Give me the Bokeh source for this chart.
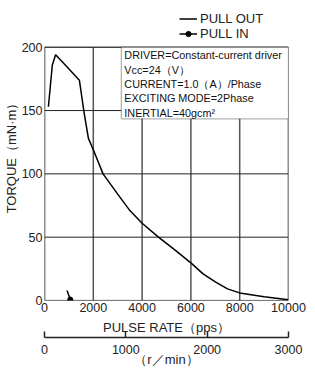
from bokeh.plotting import figure
from bokeh.models import (Range1d, LinearAxis, FixedTicker, BoxAnnotation, Label,
                          Legend, LegendItem)
from bokeh.embed import file_html
from bokeh.resources import INLINE

# ---- data ----
pull_out_pps = [160, 321, 455, 900, 1430, 1610, 1660, 1800, 2000, 2400, 3000, 3500,
                4000, 4670, 5340, 6000, 6500, 7000, 7500, 8000, 9000, 10000]
pull_out_torque = [153, 186, 194, 185, 174, 150, 144, 128, 119, 100, 84, 71,
                   61, 50, 40, 29.7, 21, 14.7, 9.2, 6, 3, 0.5]
pull_in_pps = [924, 1056]
pull_in_torque = [7.9, 0.8]
x_ticks = [0, 2000, 4000, 6000, 8000, 10000]
y_ticks = [0, 50, 100, 150, 200]
rpm_ticks = [0, 1000, 2000, 3000]
info_lines = ["DRIVER=Constant-current driver", "Vcc=24（V）",
              "CURRENT=1.0（A）/Phase", "EXCITING MODE=2Phase", "INERTIAL=40gcm²"]

FONT = "Liberation Sans"
X0, X1 = x_ticks[0], x_ticks[-1]
Y0, Y1 = y_ticks[0], y_ticks[-1]

# frame extends above the 200 line so the legend can sit there
p = figure(width=307, frame_height=291, output_backend="svg", toolbar_location=None,
           x_range=Range1d(X0, X1), y_range=Range1d(Y0, 229.8),
           min_border_left=39, min_border_right=19, min_border_top=9,
           min_border_bottom=50)
p.extra_x_ranges = {"rpm": Range1d(rpm_ticks[0], rpm_ticks[-1])}
p.background_fill_color = "white"
p.border_fill_color = "white"
p.outline_line_color = None
p.xgrid.visible = False
p.ygrid.visible = False

# grid lines limited to the chart area
p.segment(x0=x_ticks, y0=[Y0] * len(x_ticks), x1=x_ticks, y1=[Y1] * len(x_ticks),
          line_color="#555555", line_width=1.5)
p.segment(x0=[X0] * len(y_ticks), y0=y_ticks, x1=[X1] * len(y_ticks), y1=y_ticks,
          line_color="#222222", line_width=1.0)
frame_box = BoxAnnotation(left=X0, right=X1, bottom=Y0, top=Y1, fill_alpha=0,
                          line_color="black", line_width=1.5)
p.add_layout(frame_box)

# main x axis
xa = p.xaxis[0]
xa.ticker = FixedTicker(ticks=x_ticks)
xa.axis_label = "PULSE RATE（pps）"
xa.axis_line_color = None
xa.major_tick_in = 0
xa.major_tick_out = 0
xa.minor_tick_line_color = None
xa.major_label_standoff = 2
xa.axis_label_standoff = 5
xa.major_label_text_font = FONT
xa.major_label_text_font_size = "12.5px"
xa.axis_label_text_font = FONT
xa.axis_label_text_font_size = "13px"
xa.axis_label_text_font_style = "normal"
xa.major_label_text_color = "#222222"
xa.axis_label_text_color = "#222222"

# y axis
ya = p.yaxis[0]
ya.ticker = FixedTicker(ticks=y_ticks)
ya.axis_label = "TORQUE（mN·m）"
ya.axis_line_color = None
ya.major_tick_in = 0
ya.major_tick_out = 0
ya.minor_tick_line_color = None
ya.major_label_standoff = 2
ya.axis_label_standoff = 0
ya.major_label_text_font = FONT
ya.major_label_text_font_size = "12.5px"
ya.axis_label_text_font = FONT
ya.axis_label_text_font_size = "13px"
ya.axis_label_text_font_style = "normal"
ya.major_label_text_color = "#222222"
ya.axis_label_text_color = "#222222"

# secondary rpm axis
ra = LinearAxis(x_range_name="rpm", ticker=FixedTicker(ticks=rpm_ticks),
                axis_label="（r／min）")
ra.axis_line_color = "#222222"
ra.axis_line_width = 1.5
ra.major_tick_line_color = "#222222"
ra.major_tick_line_width = 1.5
ra.major_tick_in = 6
ra.major_tick_out = 0
ra.minor_tick_line_color = None
ra.major_label_standoff = 7
ra.axis_label_standoff = -5
ra.major_label_text_font = FONT
ra.major_label_text_font_size = "12.5px"
ra.axis_label_text_font = FONT
ra.axis_label_text_font_size = "13px"
ra.axis_label_text_font_style = "normal"
ra.major_label_text_color = "#222222"
ra.axis_label_text_color = "#222222"
p.add_layout(ra, "below")

# curves
r_out = p.line(pull_out_pps, pull_out_torque, line_color="black", line_width=1.5)
r_in = p.line(pull_in_pps, pull_in_torque, line_color="black", line_width=1.5)
r_in_pt = p.scatter(pull_in_pps[-1:], pull_in_torque[-1:], size=5,
                    fill_color="black", line_color="black")

# info box
box = BoxAnnotation(left=3150, right=X1, top=Y1, bottom=143.5,
                    fill_color="white", fill_alpha=1.0,
                    line_color="black", line_width=1.3)
p.add_layout(box)
lab = Label(x=3150, y=Y1, anchor="top_left", text="\n".join(info_lines),
            text_font=FONT, text_font_size="10.8px",
            text_line_height=1.2,
            x_offset=3, y_offset=-2, text_color="#111111")
p.add_layout(lab)

# legend above the 200 line
legend = Legend(items=[LegendItem(label="PULL OUT", renderers=[r_out]),
                       LegendItem(label="PULL IN", renderers=[r_in, r_in_pt])],
                location=(135, 259), orientation="vertical",
                padding=0, margin=0, spacing=0, glyph_width=18, glyph_height=13,
                label_height=13, label_standoff=3,
                label_text_font=FONT, label_text_font_size="13px",
                label_text_color="#222222",
                border_line_color=None, background_fill_alpha=0)
p.add_layout(legend, "center")

open("out.html", "w").write(file_html(p, INLINE))
